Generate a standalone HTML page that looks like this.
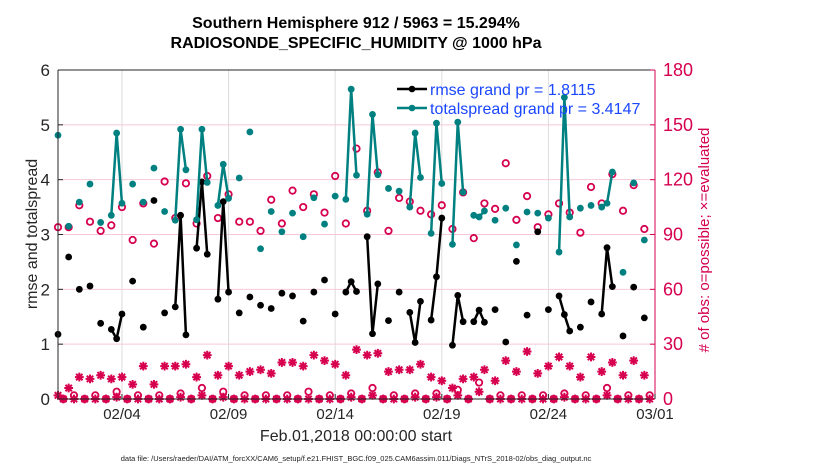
<!DOCTYPE html>
<html><head><meta charset="utf-8"><style>
html,body{margin:0;padding:0;background:#fff;}
svg{display:block;font-family:"Liberation Sans",Arial,sans-serif;}
</style></head><body>
<svg id="chart" width="830" height="470" viewBox="0 0 830 470" xmlns="http://www.w3.org/2000/svg">
<text x="356" y="28" font-size="16" font-weight="bold" text-anchor="middle">Southern Hemisphere 912 / 5963 = 15.294%</text>
<text x="356" y="48" font-size="16" font-weight="bold" text-anchor="middle">RADIOSONDE_SPECIFIC_HUMIDITY @ 1000 hPa</text>
<g id="grid"></g>
<g id="marks"></g>
<g id="axes"></g>
<text transform="translate(37,234) rotate(-90)" font-size="16" text-anchor="middle" fill="#262626">rmse and totalspread</text>
<text transform="translate(709,240) rotate(-90)" font-size="15" text-anchor="middle" fill="#d4004f"># of obs: o=possible; ×=evaluated</text>
<text x="356" y="441" font-size="16" text-anchor="middle" fill="#262626">Feb.01,2018 00:00:00 start</text>
<text x="356" y="461" font-size="7.5" text-anchor="middle" fill="#222">data file: /Users/raeder/DAI/ATM_forcXX/CAM6_setup/f.e21.FHIST_BGC.f09_025.CAM6assim.011/Diags_NTrS_2018-02/obs_diag_output.nc</text>
<g>
<g>
<line x1="397" y1="89" x2="427" y2="89" stroke="#000" stroke-width="2.5"/><circle cx="412" cy="89" r="3.3" fill="#000"/>
<text x="430" y="95" font-size="16" fill="#1a47ff">rmse grand pr = 1.8115</text></g>
<g>
<line x1="397" y1="108" x2="427" y2="108" stroke="#008080" stroke-width="2.5"/><circle cx="412" cy="108" r="3.3" fill="#008080"/>
<text x="430" y="114" font-size="16" fill="#1a47ff">totalspread grand pr = 3.4147</text></g>
</g>
</svg>
<script>
// 6-hourly slots from Feb 01 00Z
const rmse = [
1.18,null,2.59,null,2.00,null,2.06,null,
1.38,null,1.27,1.10,1.55,null,2.15,null,
1.31,null,3.62,null,1.57,null,1.68,3.35,
1.17,null,2.75,3.96,2.64,null,1.82,3.60,
1.95,null,1.57,null,1.86,null,1.71,null,
1.65,null,1.93,null,1.88,null,1.42,null,
1.95,null,2.17,null,1.55,null,1.95,2.14,
1.96,null,2.96,1.19,2.10,null,1.43,null,
1.95,null,1.58,1.03,1.78,null,1.44,2.23,
3.30,null,0.98,1.89,1.41,null,1.41,1.62,
1.40,null,1.63,null,1.04,null,2.51,null,
1.53,null,3.05,null,1.63,null,1.88,1.54,
1.24,null,1.31,null,1.77,null,1.55,2.76,
2.05,null,1.15,null,2.04,null,1.48,null];
const spread = [
4.81,null,3.15,null,3.59,null,3.92,null,
3.22,null,3.35,4.85,3.57,null,3.92,null,
3.59,null,4.21,null,3.42,null,3.26,4.92,
4.18,null,3.27,4.92,3.95,null,3.53,4.28,
3.66,null,4.03,null,4.87,null,2.74,null,
3.42,null,3.05,null,3.39,null,2.96,null,
3.67,null,3.19,null,3.70,null,3.64,5.65,
4.08,null,3.37,5.19,4.09,null,3.84,null,
3.79,null,3.50,4.85,4.04,null,3.02,5.03,
3.93,null,2.82,5.05,3.77,null,3.35,3.32,
3.43,null,3.26,null,3.48,null,2.81,null,
3.41,null,3.39,null,3.30,null,2.68,5.50,
3.32,null,3.48,null,3.53,null,3.50,3.57,
4.14,null,2.31,null,3.94,null,2.90,null];
const possible = [
94,0,94,2,106,0,97,2,
92,0,95,4,105,0,87,2,
107,0,85,2,119,0,99,3,
118,0,96,6,122,0,99,4,
112,0,97,2,97,0,92,2,
109,0,96,2,114,0,105,4,
112,0,102,2,122,0,96,3,
137,0,103,6,124,0,92,2,
110,0,108,3,103,0,101,3,
106,0,93,5,113,0,88,9,
107,0,104,2,129,0,98,2,
111,0,94,2,101,0,107,3,
102,0,91,2,116,0,107,6,
123,0,103,2,117,0,93,2];
const evaluated = [
2,0,6,0,12,0,11,0,
13,0,11,1,12,0,8,0,
18,0,8,0,18,0,18,1,
19,0,12,2,24,0,13,1,
18,0,13,0,15,0,16,0,
14,0,20,0,20,0,18,0,
24,0,21,0,19,0,13,1,
27,0,24,2,25,0,15,0,
16,0,16,1,19,0,12,1,
10,0,6,2,11,0,12,4,
16,0,10,0,21,0,15,0,
26,0,14,0,18,0,23,1,
18,0,12,0,23,0,15,2,
20,0,13,0,21,0,13,0];
const xTickDays = [3,8,13,18,23,28];
const xTickLabels = ["02/04","02/09","02/14","02/19","02/24","03/01"];
const leftTicks = [0,1,2,3,4,5,6];
const rightTicks = [0,30,60,90,120,150,180];

const X0=58,X1=655,Y0=399,Y1=70,NS="http://www.w3.org/2000/svg";
function xs(day){return X0+day*(X1-X0)/28;}
function yl(v){return Y0-v*(Y0-Y1)/6;}
function yr(v){return Y0-v*(Y0-Y1)/180;}
function mk(tag,attrs,parent){const e=document.createElementNS(NS,tag);for(const k in attrs)e.setAttribute(k,attrs[k]);parent.appendChild(e);return e;}
const grid=document.getElementById('grid'),marks=document.getElementById('marks'),axes=document.getElementById('axes');

xTickDays.forEach(d=>{
  const g=mk('line',{x1:xs(d),x2:xs(d),y1:Y1,y2:Y0,stroke:'#dcdcdc','stroke-width':1},grid);
  
  
});
leftTicks.forEach(v=>{
  if(v===0||v===6)return;
  const g=mk('line',{x1:X0,x2:X1,y1:yl(v),y2:yl(v),stroke:'#f6c9d8','stroke-width':1},grid);
  
  
});

function drawSeries(arr,color,name){
  let seg=[];
  const flush=()=>{if(seg.length>1){const p=mk('polyline',{points:seg.join(' '),fill:'none',stroke:color,'stroke-width':2.5,'stroke-linejoin':'round'},marks);
    
    }seg=[];};
  arr.forEach((v,i)=>{if(v===null){flush();return;}seg.push(xs(i*0.25)+','+yl(v));});
  flush();
  arr.forEach((v,i)=>{if(v===null)return;
    const c=mk('circle',{cx:xs(i*0.25),cy:yl(v),r:3.4,fill:color},marks);
    
    });
}
const red='#d6004f';
evaluated.forEach((v,i)=>{
  const x=xs(i*0.25),y=yr(v),s=4.4,d=3.2;
  const g=mk('path',{d:`M${x-s},${y}H${x+s}M${x},${y-s}V${y+s}M${x-d},${y-d}L${x+d},${y+d}M${x-d},${y+d}L${x+d},${y-d}`,stroke:red,'stroke-width':2,fill:'none'},marks);
  
  
});
possible.forEach((v,i)=>{
  const c=mk('circle',{cx:xs(i*0.25),cy:yr(v),r:3.2,fill:'none',stroke:red,'stroke-width':1.8},marks);
  
  
});
drawSeries(rmse,'#000','rmse');
drawSeries(spread,'#008080','totalspread');

let a=mk('path',{d:`M${X0},${Y1}V${Y0}H${X1}M${X0},${Y1}H${X1}`,stroke:'#262626','stroke-width':1,fill:'none'},axes);


a=mk('line',{x1:X1,x2:X1,y1:Y1,y2:Y0,stroke:red,'stroke-width':1},axes);


leftTicks.forEach(v=>{
  mk('line',{x1:X0,x2:X0+5,y1:yl(v),y2:yl(v),stroke:'#262626'},axes);
  const t=mk('text',{x:X0-8,y:yl(v)+6,'font-size':17,'text-anchor':'end',fill:'#262626'},axes);
  t.textContent=v;
  
  
});
rightTicks.forEach(v=>{
  mk('line',{x1:X1-5,x2:X1,y1:yr(v),y2:yr(v),stroke:red},axes);
  const t=mk('text',{x:X1+8,y:yr(v)+6,'font-size':18,fill:red},axes);
  t.textContent=v;
  
  
});
xTickDays.forEach((d,i)=>{
  mk('line',{x1:xs(d),x2:xs(d),y1:Y0,y2:Y0-5,stroke:'#262626'},axes);
  const t=mk('text',{x:xs(d),y:Y0+20,'font-size':15,'text-anchor':'middle',fill:'#262626'},axes);
  t.textContent=xTickLabels[i];
  
  
});
</script>
</body></html>
